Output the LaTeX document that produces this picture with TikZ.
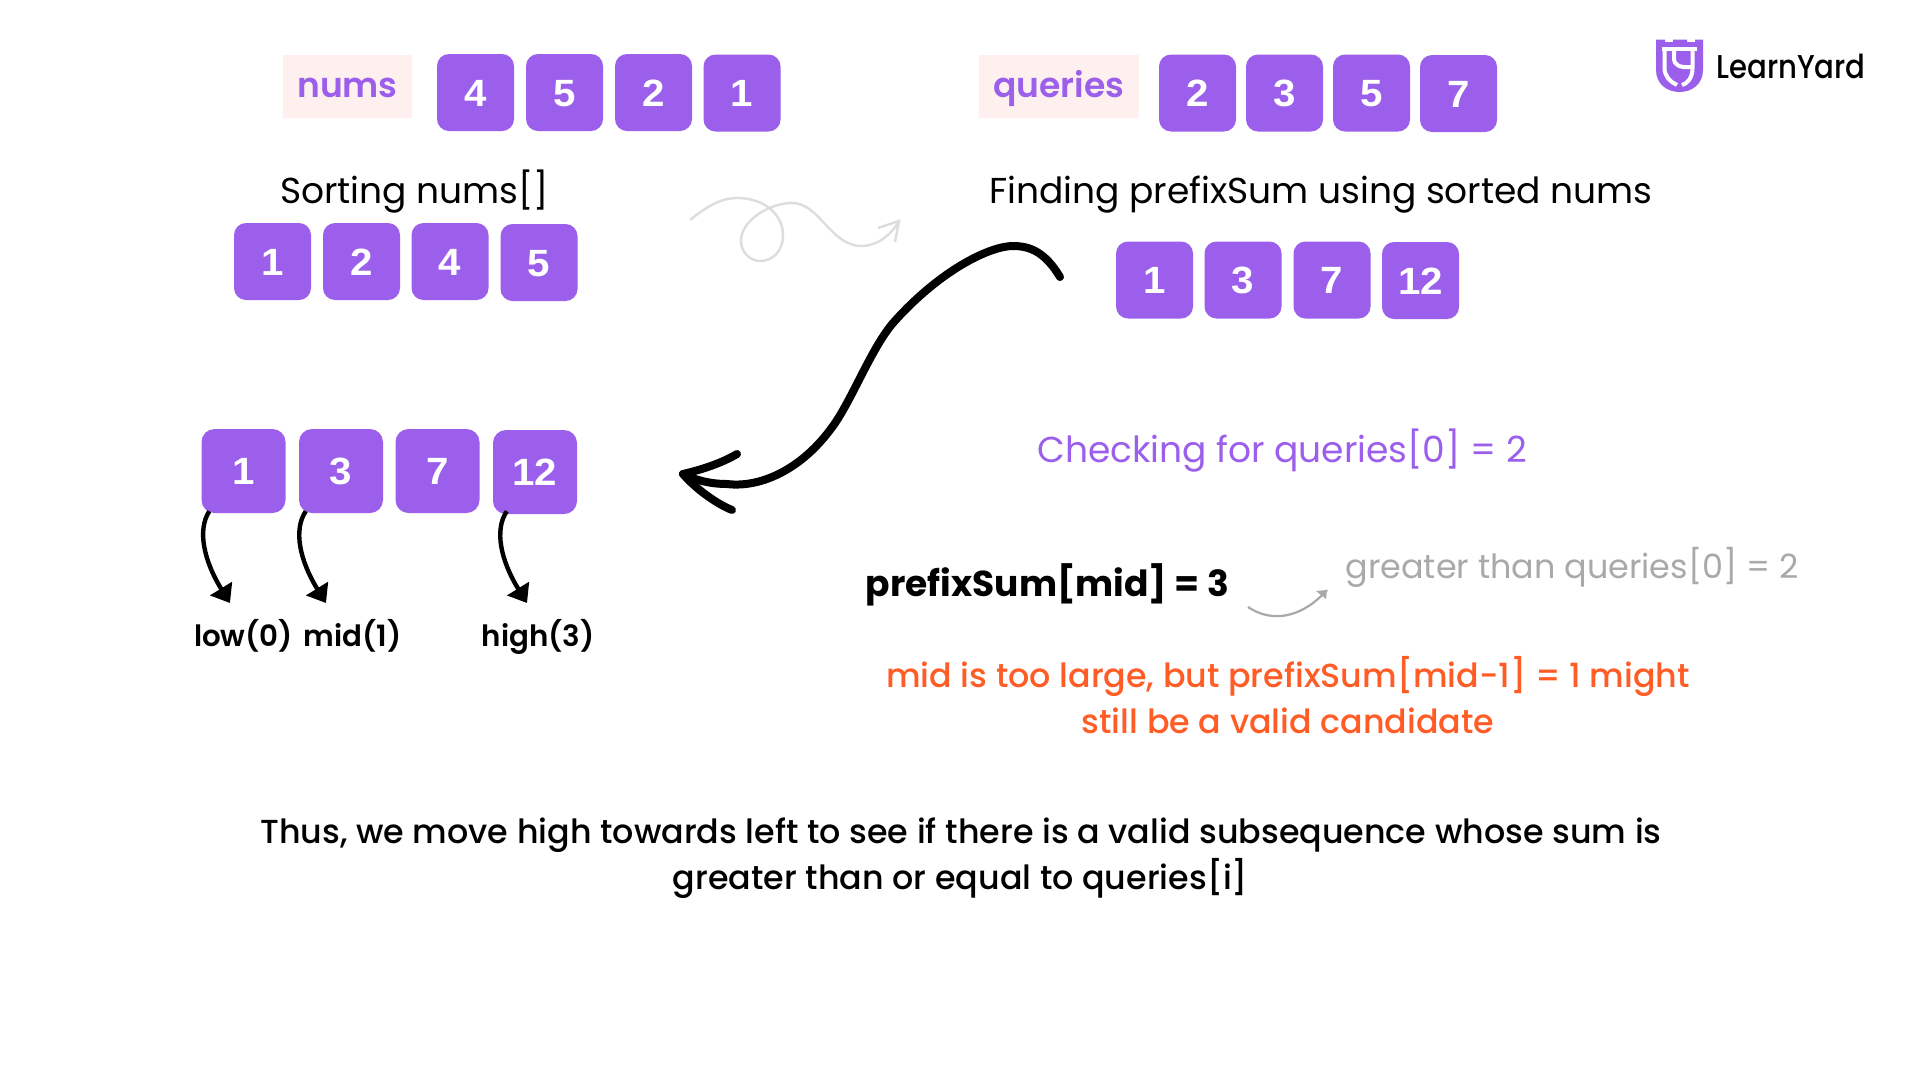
\documentclass[tikz,border=0pt]{standalone}
\usepackage{fontspec}
\setmainfont{Poppins}
\newfontfamily\popsemi{Poppins}[UprightFont=* SemiBold,BoldFont=* SemiBold]
\newfontfamily\popmed{Poppins}[UprightFont=* Medium,BoldFont=* Medium]
\newfontfamily\digitfont{Liberation Sans}[FakeStretch=1.06]
\newfontfamily\logofont{Poppins}[UprightFont=* Medium,FakeStretch=0.885]
\usetikzlibrary{arrows.meta,calc}
\definecolor{lypurple}{HTML}{9B5FEB}
\definecolor{lypink}{HTML}{FDF0EE}
\definecolor{lyorange}{HTML}{FF5C26}
\definecolor{lygray}{HTML}{A9A9A9}
\definecolor{lycurl}{HTML}{DDDDDD}
\tikzset{
 cell/.style={fill=lypurple,rounded corners=12pt,minimum width=77pt,minimum height=77pt,inner sep=0pt,text=white,text height=27pt,text depth=0pt,font=\fontsize{38}{38}\digitfont\bfseries},
 bigcell/.style={cell,minimum width=84pt,minimum height=84pt,rounded corners=13pt},
 tagbox/.style={fill=lypink,inner sep=0pt,text=lypurple,text height=27pt,text depth=5pt,font=\fontsize{34.5}{35}\popsemi},
 body/.style={anchor=base,inner sep=0pt,text=black,font=\fontsize{36}{36}\selectfont},
 bodymed/.style={body,font=\fontsize{33.3}{35}\popmed},
 ptr/.style={line width=4.4pt,-{Triangle[width=25pt,length=17pt]}},
 ptrlabel/.style={anchor=base,inner sep=0pt,font=\fontsize{29.3}{31}\popsemi},
 logostroke/.style={white,line width=4pt},
}
\begin{document}
\begin{tikzpicture}[x=1pt,y=-1pt]
\useasboundingbox[fill=white] (0,0) rectangle (1920,1080);
% tags
\node[tagbox,minimum width=129pt,minimum height=63pt] (numsTag) at (347.5,86.5) {nums};
\node[tagbox,minimum width=160pt,minimum height=63pt] (queriesTag) at (1059,86.5) {queries};
% nums
\node[cell] (n1) at (475.5,92.5) {4};
\node[cell] (n2) at (564.5,92.5) {5};
\node[cell] (n3) at (653.5,92.5) {2};
\node[cell] (n4) at (742,93) {1};
% queries
\node[cell] (q1) at (1197.5,93) {2};
\node[cell] (q2) at (1284.5,93) {3};
\node[cell] (q3) at (1371.5,93) {5};
\node[cell] (q4) at (1458.5,93.5) {7};
% sorted
\node[cell] (s1) at (272.5,261.5) {1};
\node[cell] (s2) at (361.5,261.5) {2};
\node[cell] (s3) at (450,261.5) {4};
\node[cell] (s4) at (539,262.5) {5};
% prefix
\node[cell] (p1) at (1154.5,280) {1};
\node[cell] (p2) at (1243,280) {3};
\node[cell] (p3) at (1332,280) {7};
\node[cell] (p4) at (1420.5,280.5) {12};
% lower
\node[bigcell] (c1) at (243.5,471) {1};
\node[bigcell] (c2) at (341,471) {3};
\node[bigcell] (c3) at (437.5,471) {7};
\node[bigcell] (c4) at (535,472) {12};
% text
\node[body] (t1) at (414.5,203) {Sorting nums[]};
\node[body] (t2) at (1321,203) {Finding prefixSum using sorted nums};
\node[body,text=lypurple] (t3) at (1282,462.5) {Checking for queries[0] = 2};
\node[body,font=\fontsize{36}{36}\bfseries] (t4) at (1047.5,596) {prefixSum[mid] = 3};
\node[body,text=lygray,font=\fontsize{33.4}{35}\selectfont] (t5) at (1572,578.5) {greater than queries[0] = 2};
\node[bodymed,text=lyorange] (t6) at (1288,687) {mid is too large, but prefixSum[mid-1] = 1 might};
\node[bodymed,text=lyorange] (t7) at (1288,733) {still be a valid candidate};
\node[bodymed] (t8) at (961,843) {Thus, we move high towards left to see if there is a valid subsequence whose sum is};
\node[bodymed] (t9) at (960.5,889) {greater than or equal to queries[i]};
% pointer labels
\node[ptrlabel] (low) at (243.5,646) {low(0)};
\node[ptrlabel] (mid) at (352.5,646) {mid(1)};
\node[ptrlabel] (high) at (538,646) {high(3)};
% pointers
\coordinate (lowTip) at (230,603);
\coordinate (midTip) at (326,603);
\coordinate (highTip) at (527,603);
\draw[ptr] ([xshift=8pt,yshift=2pt]c1.south west) .. controls (197,530) and (204,561) .. (lowTip);
\draw[ptr] ([xshift=7pt,yshift=2pt]c2.south west) .. controls (293,530) and (300,561) .. (midTip);
\draw[ptr] ([xshift=14pt,yshift=3pt]c4.south west) .. controls (494,530) and (501,561) .. (highTip);
% curl
\coordinate (curlStart) at (690,220);
\coordinate (curlTip) at (899,221);
\draw[lycurl,line width=2.4pt] (curlStart) .. controls (705,208) and (720,198) .. (737,198) .. controls (765,198) and (783,215) .. (783,235) .. controls (783,252) and (772,261) .. (760,261) .. controls (750,261) and (741,252) .. (741,241) .. controls (741,220) and (770,203) .. (792,203) .. controls (820,203) and (830,246) .. (862,246) .. controls (875,246) and (890,237) .. (curlTip);
\draw[lycurl,line width=2.4pt] (878,228) -- (curlTip) -- (895,242);
% big arrow
\coordinate (bigStart) at (1060,277);
\coordinate (bigTip) at (683,474);
\draw[line width=8pt,line cap=round,line join=round] (bigStart) .. controls (1045,252) and (1030,246) .. (1013,246) .. controls (990,246) and (940,270) .. (893,323) .. controls (870,350) and (850,405) .. (830,430) .. controls (800,470) and (760,488) .. (727,484) .. controls (710,484) and (695,480) .. (bigTip);
\draw[line width=8pt,line cap=round,line join=round] (737,454) .. controls (720,464) and (700,470) .. (bigTip) .. controls (695,488) and (715,503) .. (732,510);
% small gray
\coordinate (smallStart) at (1248,607);
\coordinate (smallTip) at (1327,590);
\draw[lygray,line width=2.2pt] (smallStart) .. controls (1270,622) and (1300,620) .. (smallTip);
\fill[lygray] (smallTip) -- (1316,591) -- (1326,599) -- cycle;
% logo
\fill[lypurple] (1656,39.5) -- (1665,39.5) -- (1665,42) -- (1673,42) -- (1673,39.5) -- (1687,39.5) -- (1687,42) -- (1695,42) -- (1695,39.5) -- (1703,39.5) -- (1703,70) .. controls (1703,84) and (1692,92) .. (1679.5,92) .. controls (1667,92) and (1656,84) .. (1656,70) -- cycle;
\fill[white] (1662,47) rectangle (1697,51);
\draw[logostroke] (1664.5,50) -- (1664.5,68) .. controls (1664.5,76) and (1670,82) .. (1677,85);
\draw[logostroke] (1674,51) -- (1674,58) .. controls (1674,65) and (1679,68) .. (1692,67);
\draw[logostroke] (1692.5,51) -- (1692.5,68) .. controls (1692.5,78) and (1687,84) .. (1682,85);
\node[anchor=base west,inner sep=0pt,font=\fontsize{33}{33}\logofont] (logoText) at (1716,78) {LearnYard};
\end{tikzpicture}
\end{document}
